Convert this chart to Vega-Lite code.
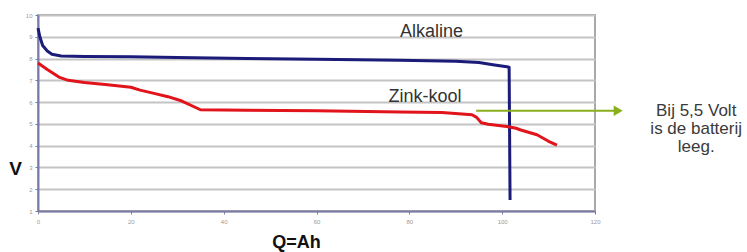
{
  "$schema": "https://vega.github.io/schema/vega-lite/v6.json",
  "width": 557,
  "height": 196,
  "autosize": {"type": "none"},
  "padding": {"left": 38, "top": 15, "right": 152, "bottom": 41},
  "background": "white",
  "config": {
    "view": {"stroke": "#a8a8a8", "strokeWidth": 2},
    "font": "Liberation Sans"
  },
  "datasets": {
    "curves": [
      {"serie": "Alkaline", "q": 0, "v": 9.4},
      {"serie": "Alkaline", "q": 0.4, "v": 9.0},
      {"serie": "Alkaline", "q": 1, "v": 8.6},
      {"serie": "Alkaline", "q": 2, "v": 8.35},
      {"serie": "Alkaline", "q": 3, "v": 8.2},
      {"serie": "Alkaline", "q": 5, "v": 8.12},
      {"serie": "Alkaline", "q": 10, "v": 8.1},
      {"serie": "Alkaline", "q": 20, "v": 8.08},
      {"serie": "Alkaline", "q": 30, "v": 8.05},
      {"serie": "Alkaline", "q": 45, "v": 8.0},
      {"serie": "Alkaline", "q": 60, "v": 7.97},
      {"serie": "Alkaline", "q": 78, "v": 7.92},
      {"serie": "Alkaline", "q": 90, "v": 7.88},
      {"serie": "Alkaline", "q": 95, "v": 7.82},
      {"serie": "Alkaline", "q": 98, "v": 7.72},
      {"serie": "Alkaline", "q": 101, "v": 7.62},
      {"serie": "Alkaline", "q": 101.5, "v": 7.6},
      {"serie": "Alkaline", "q": 101.7, "v": 1.5},
      {"serie": "Zink-kool", "q": 0, "v": 7.8},
      {"serie": "Zink-kool", "q": 2, "v": 7.5},
      {"serie": "Zink-kool", "q": 4.5, "v": 7.15},
      {"serie": "Zink-kool", "q": 6.5, "v": 7.0},
      {"serie": "Zink-kool", "q": 10, "v": 6.9},
      {"serie": "Zink-kool", "q": 15, "v": 6.8},
      {"serie": "Zink-kool", "q": 20, "v": 6.68},
      {"serie": "Zink-kool", "q": 22, "v": 6.55},
      {"serie": "Zink-kool", "q": 25, "v": 6.4},
      {"serie": "Zink-kool", "q": 28, "v": 6.25},
      {"serie": "Zink-kool", "q": 31, "v": 6.05},
      {"serie": "Zink-kool", "q": 35, "v": 5.65},
      {"serie": "Zink-kool", "q": 45, "v": 5.63},
      {"serie": "Zink-kool", "q": 60, "v": 5.6},
      {"serie": "Zink-kool", "q": 78, "v": 5.55},
      {"serie": "Zink-kool", "q": 87, "v": 5.52},
      {"serie": "Zink-kool", "q": 93.5, "v": 5.42},
      {"serie": "Zink-kool", "q": 94.5, "v": 5.3},
      {"serie": "Zink-kool", "q": 95.5, "v": 5.05},
      {"serie": "Zink-kool", "q": 97, "v": 4.98},
      {"serie": "Zink-kool", "q": 101, "v": 4.88},
      {"serie": "Zink-kool", "q": 103, "v": 4.8},
      {"serie": "Zink-kool", "q": 104, "v": 4.72},
      {"serie": "Zink-kool", "q": 107.5, "v": 4.5},
      {"serie": "Zink-kool", "q": 110, "v": 4.2},
      {"serie": "Zink-kool", "q": 111.8, "v": 4.02}
    ],
    "labels": [
      {"label": "Alkaline", "q": 78, "v": 9.22},
      {"label": "Zink-kool", "q": 75.5, "v": 6.24}
    ],
    "arrow": [
      {"q": 94.4, "q2": 124.5, "v": 5.6}
    ],
    "head": [
      {"q": 125, "v": 5.6}
    ],
    "note": [
      {"q": 141.8, "v": 5.58, "text": ["Bij 5,5 Volt", "is de batterij", "leeg."]}
    ]
  },
  "encoding": {
    "x": {
      "field": "q", "type": "quantitative",
      "scale": {"domain": [0, 120], "nice": false},
      "axis": {
        "values": [0, 20, 40, 60, 80, 100, 120],
        "grid": false,
        "labelOverlap": false, "labelBound": false, "labelFlush": false,
        "domainColor": "#7a7aa8", "domainWidth": 2,
        "tickColor": "#7a7aa8", "tickSize": 3,
        "labelFontSize": 6, "labelColor": "#9a9a9a", "labelPadding": 4,
        "title": "Q=Ah",
        "titleFontSize": 18, "titleFontWeight": "bold", "titleColor": "#111111",
        "titleX": 258, "titleY": 31, "titleAlign": "center", "titleBaseline": "middle"
      }
    },
    "y": {
      "field": "v", "type": "quantitative",
      "scale": {"domain": [1, 10], "nice": false},
      "axis": {
        "values": [1, 2, 3, 4, 5, 6, 7, 8, 9, 10],
        "grid": true, "gridColor": "#c4c4c4", "gridWidth": 2,
        "labelOverlap": false, "labelBound": false, "labelFlush": false,
        "domainColor": "#7a7aa8", "domainWidth": 2,
        "tickColor": "#7a7aa8", "tickSize": 3,
        "labelFontSize": 6, "labelColor": "#9a9a9a", "labelPadding": 3,
        "title": "V",
        "titleFontSize": 19, "titleFontWeight": "bold", "titleColor": "#111111",
        "titleAngle": 0, "titleX": -23, "titleY": 153,
        "titleAlign": "center", "titleBaseline": "middle"
      }
    }
  },
  "layer": [
    {
      "data": {"name": "curves"},
      "mark": {"type": "line", "strokeWidth": 3, "strokeJoin": "round"},
      "encoding": {
        "color": {
          "field": "serie", "type": "nominal",
          "scale": {"domain": ["Alkaline", "Zink-kool"], "range": ["#1b1b7a", "#e0141a"]},
          "legend": null
        },
        "order": {"field": "q", "type": "quantitative"}
      }
    },
    {
      "data": {"name": "labels"},
      "mark": {"type": "text", "align": "left", "baseline": "middle", "fontSize": 18, "color": "#333333"},
      "encoding": {
        "text": {"field": "label"}
      }
    },
    {
      "data": {"name": "arrow"},
      "mark": {"type": "rule", "color": "#8aae1c", "strokeWidth": 2},
      "encoding": {
        "x2": {"field": "q2"}
      }
    },
    {
      "data": {"name": "head"},
      "mark": {"type": "point", "shape": "triangle-right", "filled": true, "color": "#8aae1c", "size": 110, "opacity": 1},
      "encoding": {}
    },
    {
      "data": {"name": "note"},
      "mark": {"type": "text", "align": "center", "baseline": "middle", "fontSize": 17, "lineHeight": 18, "color": "#3a3a3a"},
      "encoding": {
        "text": {"field": "text"}
      }
    }
  ]
}
